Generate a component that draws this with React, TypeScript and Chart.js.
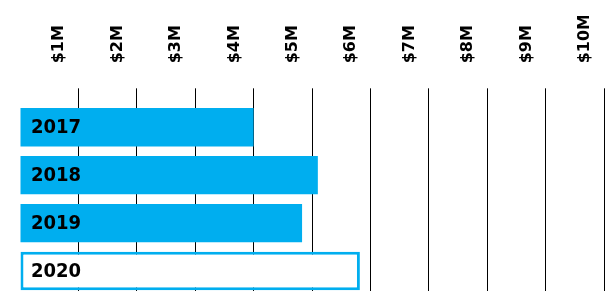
import React, { useEffect, useRef } from "react";
import { Chart, registerables } from "chart.js";

Chart.register(...registerables);

const years = ["2017", "2018", "2019", "2020"];
const revenueMillions = [4.0, 5.1, 4.83, 5.82];
const fillColors = ["#00AEEF", "#00AEEF", "#00AEEF", "#FFFFFF"];
const borderWidths = [0, 0, 0, 3];
const tickStepMillions = 1;
const axisMaxMillions = 10;

const TICK_PADDING = 25;

const barLabelPlugin = {
  id: "barLabels",
  afterDatasetsDraw(chart: any) {
    const { ctx, chartArea, scales } = chart;
    const y = scales.y;
    ctx.save();
    ctx.fillStyle = "#000000";
    ctx.font = "bold 20px 'DejaVu Sans Condensed', 'DejaVu Sans', sans-serif";
    ctx.textAlign = "left";
    ctx.textBaseline = "middle";
    years.forEach((label, i) => {
      ctx.fillText(label, chartArea.left + 11, y.getPixelForValue(i) + 1);
    });
    ctx.restore();
  },
};

export default function App() {
  const ref = useRef<HTMLCanvasElement | null>(null);

  useEffect(() => {
    if (!ref.current) return;
    const chart = new Chart(ref.current, {
      type: "bar",
      data: {
        labels: years,
        datasets: [
          {
            data: revenueMillions,
            backgroundColor: fillColors,
            borderColor: "#00AEEF",
            borderWidth: borderWidths,
            borderSkipped: false,
            barPercentage: 0.8,
            categoryPercentage: 1,
          },
        ],
      },
      options: {
        indexAxis: "y",
        animation: false,
        responsive: false,
        maintainAspectRatio: false,
        layout: { padding: { top: 16, left: 20, right: 12, bottom: 5 } },
        plugins: {
          legend: { display: false },
          tooltip: { enabled: false },
        },
        scales: {
          x: {
            position: "top",
            min: 0,
            max: axisMaxMillions,
            border: { display: false },
            grid: {
              color: (ctx: any) =>
                ctx.tick && ctx.tick.value === 0 ? "rgba(0,0,0,0)" : "#000000",
              lineWidth: 1,
              drawTicks: true,
              tickLength: 15,
            },
            ticks: {
              stepSize: tickStepMillions,
              autoSkip: false,
              minRotation: 90,
              maxRotation: 90,
              padding: TICK_PADDING,
              color: "#000000",
              font: { family: "DejaVu Sans", size: 16, weight: "bold" },
              callback: (v: any) => (Number(v) === 0 ? "" : `$${v}M`),
            },
            afterFit: (scale: any) => {
              scale.height = scale.height - TICK_PADDING - 2;
              scale.paddingLeft = 0;
              scale.paddingRight = 0;
            },
          },
          y: {
            display: false,
          },
        },
      },
      plugins: [barLabelPlugin],
    });
    return () => chart.destroy();
  }, []);

  return (
    <div style={{ position: "absolute", left: 0, top: 0, width: 616, height: 300 }}>
      <canvas ref={ref} width={616} height={300} style={{ width: 616, height: 300, display: "block" }} />
    </div>
  );
}
